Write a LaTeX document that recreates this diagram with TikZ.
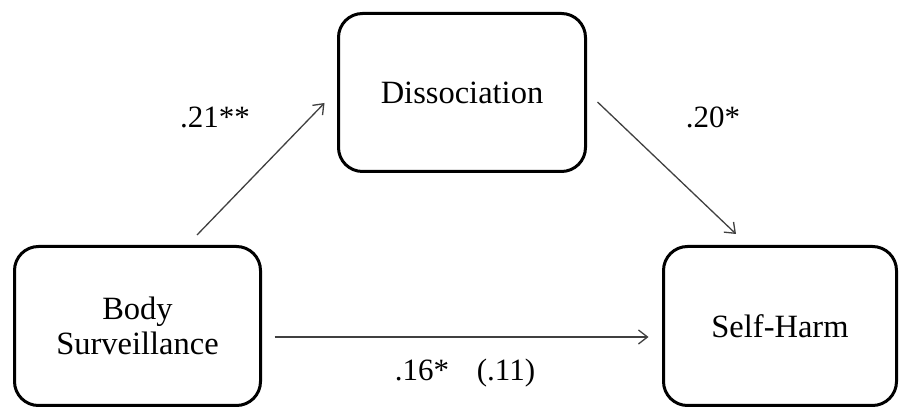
\documentclass[tikz,border=0pt]{standalone}
\usepackage{fontspec}
\setmainfont{Liberation Serif}
\usetikzlibrary{arrows.meta}
\begin{document}
\begin{tikzpicture}[x=1pt,y=1pt,
  box/.style={draw=black, line width=3pt, rounded corners=24pt, align=center,
    font=\fontsize{32.5}{35}\selectfont, inner sep=0pt},
  conn/.style={draw=black!75, line width=1.3pt,
    -{Straight Barb[length=9pt,width=14pt,line width=1.3pt]}},
  lbl/.style={font=\fontsize{31}{35}\selectfont, inner sep=0pt}]
\useasboundingbox (0,0) rectangle (900,409);
\node[box, minimum width=246pt, minimum height=159pt] (bs) at (137.5,83) {Body\\Surveillance};
\node[box, minimum width=247pt, minimum height=158pt] (dis) at (462,316.5) {Dissociation};
\node[box, minimum width=233pt, minimum height=159pt] (sh) at (780,83) {Self-Harm};
\draw[conn] ([shift={(59.5,10)}]bs.north) -- ([shift={(-12.5,-10.5)}]dis.west);
\draw[conn] ([shift={(10.5,-9.5)}]dis.east) -- ([shift={(-44,11)}]sh.north);
\draw[conn] ([shift={(12.5,-11)}]bs.east) -- ([shift={(-13.5,-11)}]sh.west);
\node[lbl] (l1) at (215,292) {.21**};
\node[lbl] (l2) at (713,292) {.20*};
\node[lbl] (l3) at (465,36) {.16*\hspace{0.9em}(.11)};
\end{tikzpicture}
\end{document}
